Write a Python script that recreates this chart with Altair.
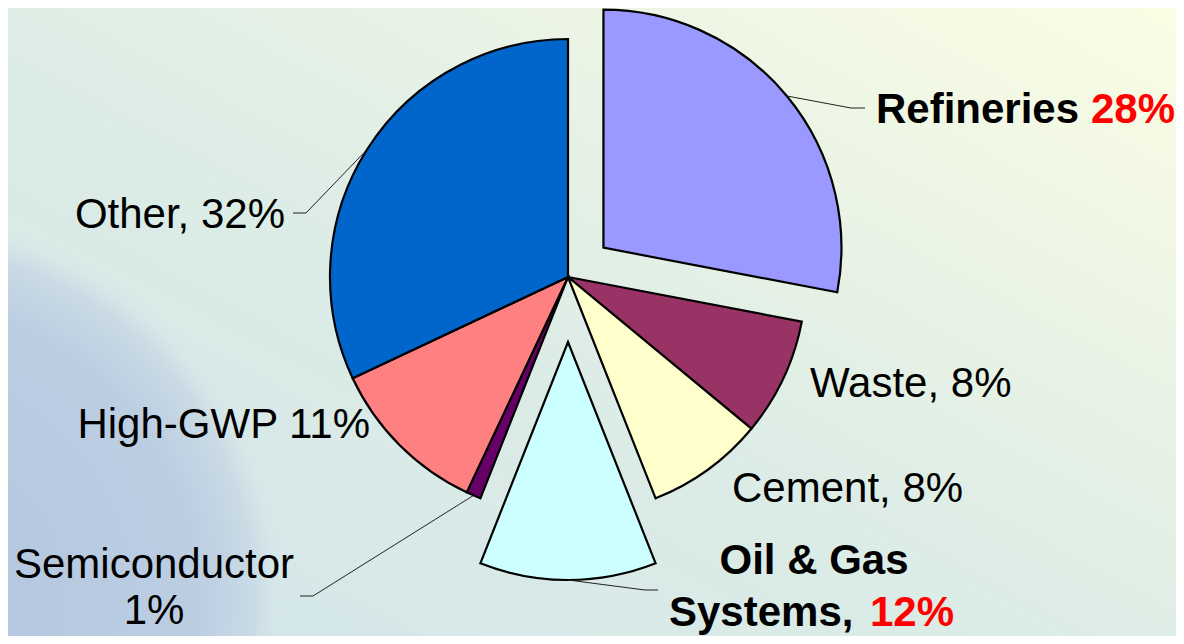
import math
import altair as alt
import pandas as pd

# ---- data ----
categories = ["Refineries", "Waste", "Cement", "Oil & Gas Systems", "Semiconductor", "High-GWP", "Other"]
shares = [28, 8, 8, 12, 1, 11, 32]
colors = ["#9999FF", "#993366", "#FFFFCC", "#CCFFFF", "#660066", "#FF8080", "#0066CC"]

# ---- layout / style ----
W, H = 1168, 628
CX, CY, R = 560, 269, 238
EXPLODE = {"Refineries": 46, "Oil & Gas Systems": 65}
FONT = "Liberation Sans, Arial, sans-serif"
FS = 42

df = pd.DataFrame({"category": categories, "share": shares, "order": list(range(len(categories)))})

theta_scale = alt.Scale(domain=[0, 100], range=[0, 2 * math.pi])
color_scale = alt.Scale(domain=categories, range=colors)

# mid angles (radians) derived from the shares
mids = {}
acc = 0
for c, s in zip(categories, shares):
    mids[c] = (acc + s / 2) / 100 * 2 * math.pi
    acc += s


def center_of(cat):
    e = EXPLODE.get(cat, 0)
    a = mids[cat]
    return CX + e * math.sin(a), CY - e * math.cos(a)


def edge_point(cat):
    cx, cy = center_of(cat)
    a = mids[cat]
    return cx + R * math.sin(a), cy - R * math.cos(a)


def slice_layer(filter_expr, cx, cy):
    return (
        alt.Chart(df)
        .transform_window(end="sum(share)", sort=[alt.SortField("order")], frame=[None, 0])
        .transform_calculate(start="datum.end - datum.share")
        .transform_filter(filter_expr)
        .mark_arc(outerRadius=R, stroke="black", strokeWidth=2.2, strokeJoin="miter")
        .encode(
            theta=alt.Theta("start:Q", scale=theta_scale),
            theta2="end:Q",
            color=alt.Color("category:N", scale=color_scale, legend=None),
            x=alt.value(cx),
            y=alt.value(cy),
        )
    )


one = pd.DataFrame({"a": [0]})

# background gradient
bg = alt.Chart(one).mark_rect(
    fill=alt.LinearGradient(
        gradient="linear",
        stops=[
            alt.GradientStop(color="#d2e6ea", offset=0),
            alt.GradientStop(color="#dcece6", offset=0.45),
            alt.GradientStop(color="#fbfde4", offset=1),
        ],
        x1=0, y1=1, x2=1, y2=0,
    )
).encode(x=alt.value(0), x2=alt.value(W), y=alt.value(0), y2=alt.value(H))

# faint globe in the lower-left corner
globe = alt.Chart(one).mark_arc(
    theta=0,
    theta2=2 * math.pi,
    outerRadius=385,
    opacity=0.9,
    fill=alt.RadialGradient(
        gradient="radial",
        stops=[
            alt.GradientStop(color="#b0c2de", offset=0),
            alt.GradientStop(color="#b9cbe1", offset=0.78),
            alt.GradientStop(color="#c8d9e5", offset=0.92),
            alt.GradientStop(color="rgba(212,230,234,0)", offset=1),
        ],
    ),
).encode(x=alt.value(-108), y=alt.value(592))

base_filter = alt.FieldOneOfPredicate(field="category", oneOf=[c for c in categories if c not in EXPLODE])
layers = [bg, globe, slice_layer(base_filter, CX, CY)]
for cat in EXPLODE:
    cx, cy = center_of(cat)
    layers.append(slice_layer(alt.FieldEqualPredicate(field="category", equal=cat), cx, cy))

# leader lines: start on the slice edge at its mid angle, then elbow and short horizontal end
leader_rows = []
elbows = {
    "Refineries": [(843, 100), (857, 100)],
    "Other": [(298, 205), (285, 205)],
    "Semiconductor": [(305, 588), (292, 588)],
    "Oil & Gas Systems": [(637, 582), (650, 582)],
}
for cat, pts in elbows.items():
    sx, sy = edge_point(cat)
    seq = [(sx, sy)] + pts
    for i, (px, py) in enumerate(seq):
        leader_rows.append({"cat": cat, "i": i, "px": px, "py": py})
leaders = alt.Chart(pd.DataFrame(leader_rows)).mark_line(color="#222222", strokeWidth=1).encode(
    x=alt.X("px:Q", scale=None, axis=None),
    y=alt.Y("py:Q", scale=None, axis=None),
    detail="cat:N",
    order="i:Q",
)
layers.append(leaders)

pct = dict(zip(categories, shares))


def label(text, x, y, align="left", bold=False, color="black"):
    return alt.Chart(pd.DataFrame({"t": [text]})).mark_text(
        font=FONT, fontSize=FS, fontWeight="bold" if bold else "normal",
        align=align, baseline="alphabetic", color=color,
    ).encode(text="t:N", x=alt.value(x), y=alt.value(y))


layers += [
    label("Refineries", 868, 115, "left", True),
    label(f"{pct['Refineries']}%", 1167, 115, "right", True, "#FF0000"),
    label(f"Waste, {pct['Waste']}%", 802, 389, "left"),
    label(f"Cement, {pct['Cement']}%", 724, 494, "left"),
    label("Oil & Gas", 806, 566, "center", True),
    label("Systems,", 661, 618, "left", True),
    label(f"{pct['Oil & Gas Systems']}%", 946, 618, "right", True, "#FF0000"),
    label(f"Other, {pct['Other']}%", 277, 220, "right"),
    label(f"High-GWP {pct['High-GWP']}%", 362, 430, "right"),
    label("Semiconductor", 146, 570, "center"),
    label(f"{pct['Semiconductor']}%", 146, 616, "center"),
]

chart = (
    alt.layer(*layers)
    .properties(width=W, height=H, autosize="none", padding=0, background="#d8eae8")
    .configure_view(stroke=None)
)

chart.save("out.html", embed_options={"renderer": "svg", "actions": False})
